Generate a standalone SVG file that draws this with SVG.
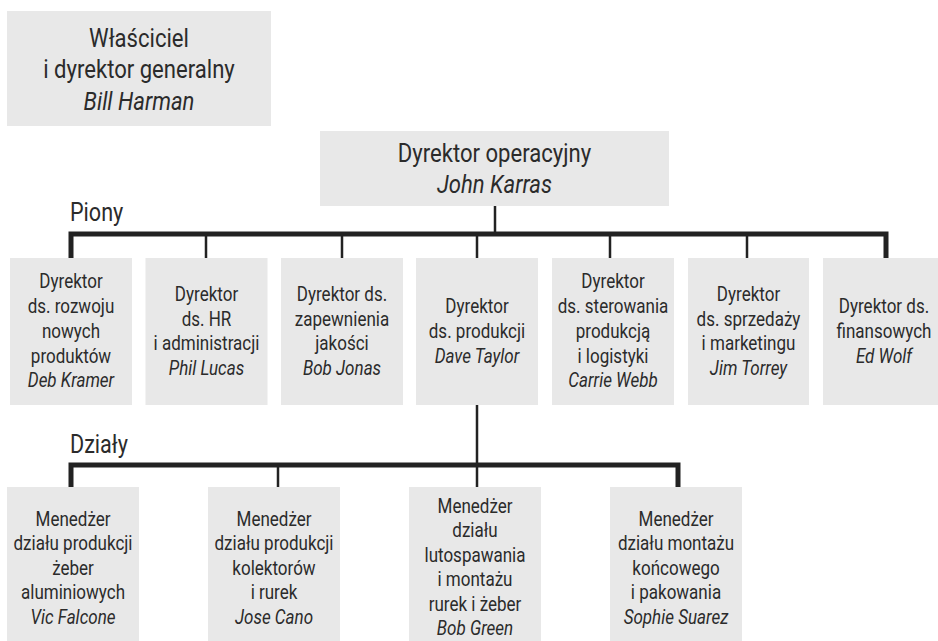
<svg xmlns="http://www.w3.org/2000/svg" width="938" height="641" viewBox="0 0 938 641">
<style>
.box{fill:#e8e8e8}
text{font-family:Roboto,"Liberation Sans",sans-serif;fill:#2b2b2b;text-anchor:middle}
.big{font-size:26px}
.sm{font-size:20.5px}
.lbl{font-size:26px;text-anchor:start}
.it{font-style:italic}
.bar{fill:none;stroke:#222;stroke-width:5;stroke-linejoin:miter}
.thin{fill:none;stroke:#222;stroke-width:2.5}
</style>
<rect width="938" height="641" fill="#ffffff"/>
<g id="connectors">
<path class="thin" d="M495 206V234"/>
<path class="bar" d="M71 258V234H886V258"/>
<path class="thin" d="M206 234V258M342 234V258M477 234V258M610 234V258M747 234V258"/>
<path class="bar" d="M71 487V465H678V487"/>
<path class="thin" d="M278 465V487M477 405V487"/>
</g>
<g id="label-piony" transform="translate(70 0) scale(0.83 1)">
<text class="lbl" x="0" y="221">Piony</text>
</g>
<g id="label-dzialy" transform="translate(70 0) scale(0.83 1)">
<text class="lbl" x="0" y="453">Działy</text>
</g>
<g id="owner">
<rect class="box" x="7" y="11" width="264" height="115"/>
<g transform="translate(139 0) scale(0.85 1)">
<text class="big" x="0" y="47">Właściciel</text>
<text class="big" x="0" y="78">i dyrektor generalny</text>
<text class="big it" x="0" y="110">Bill Harman</text>
</g>
</g>
<g id="coo">
<rect class="box" x="320" y="131" width="349" height="75"/>
<g transform="translate(494.5 0) scale(0.85 1)">
<text class="big" x="0" y="162">Dyrektor operacyjny</text>
<text class="big it" x="0" y="193">John Karras</text>
</g>
</g>
<g id="dir-rozwoj">
<rect class="box" x="10" y="258" width="122" height="147"/>
<g transform="translate(71 0) scale(0.83 1)">
<text class="sm" x="0" y="288.5">Dyrektor</text>
<text class="sm" x="0" y="313.3">ds. rozwoju</text>
<text class="sm" x="0" y="338">nowych</text>
<text class="sm" x="0" y="362.8">produktów</text>
<text class="sm it" x="0" y="387.5">Deb Kramer</text>
</g>
</g>
<g id="dir-hr">
<rect class="box" x="145.5" y="258" width="122" height="147"/>
<g transform="translate(206.5 0) scale(0.83 1)">
<text class="sm" x="0" y="301">Dyrektor</text>
<text class="sm" x="0" y="326">ds. HR</text>
<text class="sm" x="0" y="350.5">i administracji</text>
<text class="sm it" x="0" y="375.3">Phil Lucas</text>
</g>
</g>
<g id="dir-jakosc">
<rect class="box" x="281" y="258" width="122" height="147"/>
<g transform="translate(342 0) scale(0.83 1)">
<text class="sm" x="0" y="301">Dyrektor ds.</text>
<text class="sm" x="0" y="326">zapewnienia</text>
<text class="sm" x="0" y="350.5">jakości</text>
<text class="sm it" x="0" y="375.3">Bob Jonas</text>
</g>
</g>
<g id="dir-produkcja">
<rect class="box" x="416" y="258" width="122" height="147"/>
<g transform="translate(477 0) scale(0.83 1)">
<text class="sm" x="0" y="313.3">Dyrektor</text>
<text class="sm" x="0" y="338">ds. produkcji</text>
<text class="sm it" x="0" y="362.8">Dave Taylor</text>
</g>
</g>
<g id="dir-logistyka">
<rect class="box" x="552" y="258" width="122" height="147"/>
<g transform="translate(613 0) scale(0.83 1)">
<text class="sm" x="0" y="288.5">Dyrektor</text>
<text class="sm" x="0" y="313.3">ds. sterowania</text>
<text class="sm" x="0" y="338">produkcją</text>
<text class="sm" x="0" y="362.8">i logistyki</text>
<text class="sm it" x="0" y="387.5">Carrie Webb</text>
</g>
</g>
<g id="dir-sprzedaz">
<rect class="box" x="688" y="258" width="121" height="147"/>
<g transform="translate(748.5 0) scale(0.83 1)">
<text class="sm" x="0" y="301">Dyrektor</text>
<text class="sm" x="0" y="326">ds. sprzedaży</text>
<text class="sm" x="0" y="350.5">i marketingu</text>
<text class="sm it" x="0" y="375.3">Jim Torrey</text>
</g>
</g>
<g id="dir-finanse">
<rect class="box" x="823" y="258" width="122" height="147"/>
<g transform="translate(884 0) scale(0.83 1)">
<text class="sm" x="0" y="313.3">Dyrektor ds.</text>
<text class="sm" x="0" y="338">finansowych</text>
<text class="sm it" x="0" y="362.8">Ed Wolf</text>
</g>
</g>
<g id="mgr-zebra">
<rect class="box" x="7" y="487" width="132" height="160"/>
<g transform="translate(73 0) scale(0.83 1)">
<text class="sm" x="0" y="526">Menedżer</text>
<text class="sm" x="0" y="550.5">działu produkcji</text>
<text class="sm" x="0" y="575">żeber</text>
<text class="sm" x="0" y="599.5">aluminiowych</text>
<text class="sm it" x="0" y="624">Vic Falcone</text>
</g>
</g>
<g id="mgr-kolektory">
<rect class="box" x="208" y="487" width="132" height="160"/>
<g transform="translate(274 0) scale(0.83 1)">
<text class="sm" x="0" y="526">Menedżer</text>
<text class="sm" x="0" y="550.5">działu produkcji</text>
<text class="sm" x="0" y="575">kolektorów</text>
<text class="sm" x="0" y="599.5">i rurek</text>
<text class="sm it" x="0" y="624">Jose Cano</text>
</g>
</g>
<g id="mgr-lutospawanie">
<rect class="box" x="409" y="487" width="132" height="160"/>
<g transform="translate(475 0) scale(0.83 1)">
<text class="sm" x="0" y="512.75">Menedżer</text>
<text class="sm" x="0" y="537.25">działu</text>
<text class="sm" x="0" y="561.75">lutospawania</text>
<text class="sm" x="0" y="586.25">i montażu</text>
<text class="sm" x="0" y="610.75">rurek i żeber</text>
<text class="sm it" x="0" y="635.25">Bob Green</text>
</g>
</g>
<g id="mgr-montaz">
<rect class="box" x="610" y="487" width="132" height="160"/>
<g transform="translate(676 0) scale(0.83 1)">
<text class="sm" x="0" y="526">Menedżer</text>
<text class="sm" x="0" y="550.5">działu montażu</text>
<text class="sm" x="0" y="575">końcowego</text>
<text class="sm" x="0" y="599.5">i pakowania</text>
<text class="sm it" x="0" y="624">Sophie Suarez</text>
</g>
</g>
</svg>
